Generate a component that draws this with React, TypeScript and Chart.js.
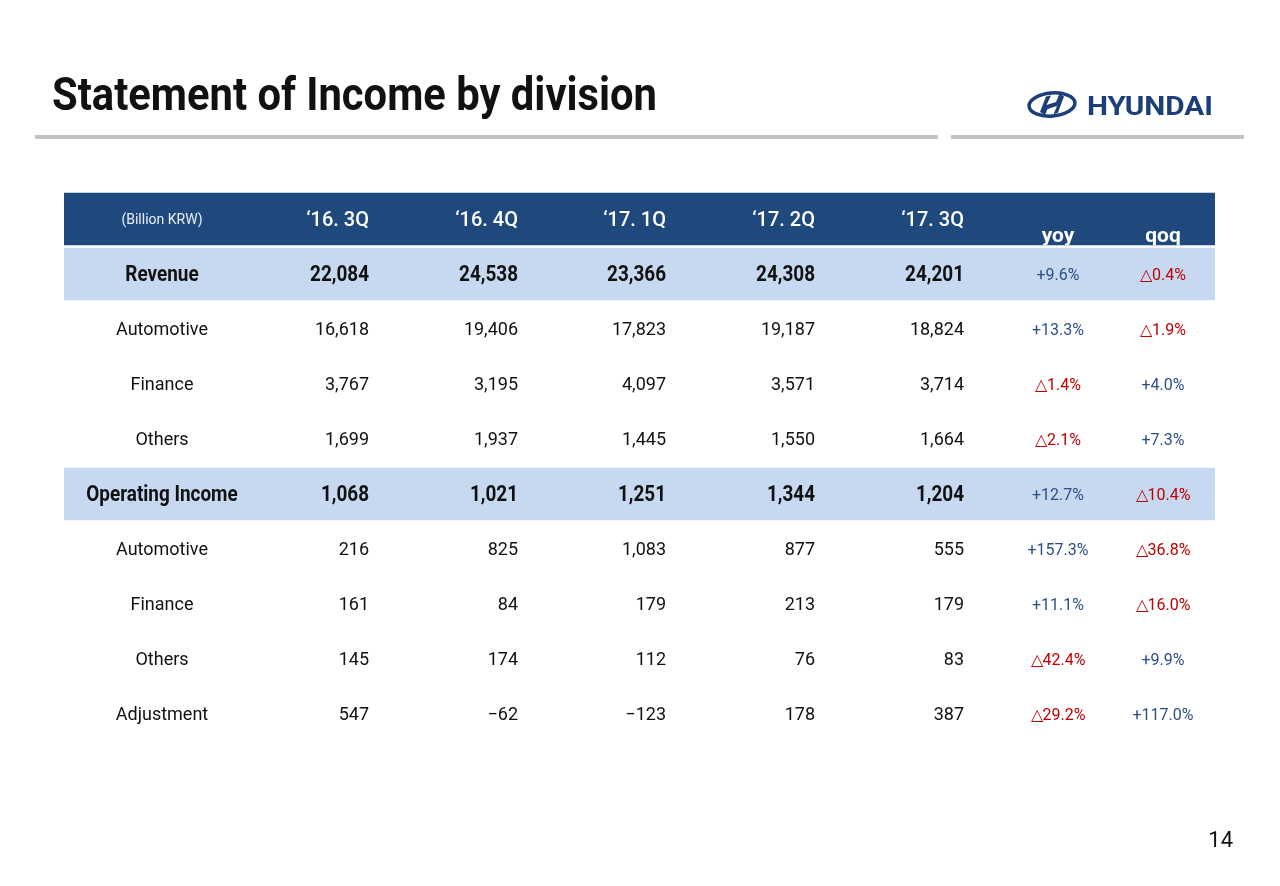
import React, { useEffect, useRef } from "react";
import { Chart, registerables } from "chart.js";

Chart.register(...registerables);

// ---------- DATA ----------
const quarters = ["‘16. 3Q", "‘16. 4Q", "‘17. 1Q", "‘17. 2Q", "‘17. 3Q"];
const unitLabel = "(Billion KRW)";
const changeHeaders = ["yoy", "qoq"];
const rowLabels = [
  "Revenue",
  "Automotive",
  "Finance",
  "Others",
  "Operating Income",
  "Automotive",
  "Finance",
  "Others",
  "Adjustment",
];
const revenue = [22084, 24538, 23366, 24308, 24201];
const revAutomotive = [16618, 19406, 17823, 19187, 18824];
const revFinance = [3767, 3195, 4097, 3571, 3714];
const revOthers = [1699, 1937, 1445, 1550, 1664];
const opIncome = [1068, 1021, 1251, 1344, 1204];
const opAutomotive = [216, 825, 1083, 877, 555];
const opFinance = [161, 84, 179, 213, 179];
const opOthers = [145, 174, 112, 76, 83];
const opAdjustment = [547, -62, -123, 178, 387];
const yoy = [9.6, 13.3, -1.4, -2.1, 12.7, 157.3, 11.1, -42.4, -29.2];
const qoq = [-0.4, -1.9, 4.0, 7.3, -10.4, -36.8, -16.0, 9.9, 117.0];
const summaryRows = [true, false, false, false, true, false, false, false, false];

const rowValues = [
  revenue,
  revAutomotive,
  revFinance,
  revOthers,
  opIncome,
  opAutomotive,
  opFinance,
  opOthers,
  opAdjustment,
];

// ---------- LAYOUT / STYLE ----------
const TABLE_WIDTH = 1151; // x-scale units span the table width
const COL_LABEL = 98;
const COL_QUARTERS = [305, 454, 602, 751, 900];
const COL_YOY = 994;
const COL_QOQ = 1099;
const HEADER_BLUE = "#1F497D";
const LIGHT_BLUE = "#C6D9F1";
const POS_BLUE = "#2B4F86";
const NEG_RED = "#C00000";
const NAVY = "#1C3F7A";
const FONT = "Roboto, 'Noto Sans', sans-serif";

const fmtNum = (v: number) =>
  (v < 0 ? "\u2212" : "") + Math.abs(v).toLocaleString("en-US");
const fmtPct = (v: number) =>
  (v < 0 ? "\u25B3" : "+") + Math.abs(v).toFixed(1) + "%";

const tablePlugin = {
  id: "tablePlugin",
  beforeDraw(chart: any) {
    const ctx = chart.ctx as CanvasRenderingContext2D;
    ctx.save();
    ctx.fillStyle = "#ffffff";
    ctx.fillRect(0, 0, chart.width, chart.height);

    // title
    ctx.fillStyle = "#111111";
    ctx.font = `bold 46px ${FONT}`;
    ctx.textAlign = "left";
    ctx.textBaseline = "alphabetic";
    ctx.fillText("Statement of Income by division", 52, 110, 605);

    // grey rules
    ctx.fillStyle = "#C3C3C3";
    ctx.fillRect(35, 135, 903, 4);
    ctx.fillRect(951, 135, 293, 4);

    // logo emblem
    ctx.strokeStyle = NAVY;
    ctx.fillStyle = NAVY;
    ctx.lineWidth = 3.5;
    ctx.beginPath();
    ctx.ellipse(1052, 104.5, 23, 11.5, -0.08, 0, Math.PI * 2);
    ctx.stroke();
    ctx.beginPath();
    ctx.moveTo(1040, 112);
    ctx.lineTo(1046, 96.5);
    ctx.lineTo(1051, 95.5);
    ctx.lineTo(1046.5, 105);
    ctx.lineTo(1056, 102);
    ctx.lineTo(1059.5, 93.8);
    ctx.lineTo(1064, 96.5);
    ctx.lineTo(1058, 112.5);
    ctx.lineTo(1053.5, 114.5);
    ctx.lineTo(1057, 106);
    ctx.lineTo(1047.5, 109);
    ctx.lineTo(1045, 115);
    ctx.closePath();
    ctx.fill();

    // logo word
    ctx.font = `bold 25px ${FONT}`;
    const w = ctx.measureText("HYUNDAI").width;
    ctx.save();
    ctx.translate(1087, 115);
    ctx.scale(126 / w, 1);
    ctx.fillText("HYUNDAI", 0, 0);
    ctx.restore();

    // page number
    ctx.fillStyle = "#111111";
    ctx.font = `22px ${FONT}`;
    ctx.textAlign = "right";
    ctx.fillText("14", 1233, 847);
    ctx.restore();
  },
  afterDatasetsDraw(chart: any) {
    const ctx = chart.ctx as CanvasRenderingContext2D;
    const xs = chart.scales.x;
    const ys = chart.scales.y;
    const X = (v: number) => xs.getPixelForValue(v);
    ctx.save();
    ctx.textBaseline = "alphabetic";

    // header row (index 0)
    const hy = ys.getPixelForValue(0);
    const bandTop = hy - 26;
    const bandBottom = hy + 26;
    ctx.save();
    ctx.beginPath();
    ctx.rect(chart.chartArea.left, bandTop, chart.chartArea.right - chart.chartArea.left, bandBottom - bandTop);
    ctx.clip();
    ctx.fillStyle = "#E8EEF7";
    ctx.font = `14px ${FONT}`;
    ctx.textAlign = "center";
    ctx.fillText(unitLabel, X(COL_LABEL), hy + 5);
    ctx.fillStyle = "#ffffff";
    ctx.font = `500 20px ${FONT}`;
    ctx.textAlign = "right";
    quarters.forEach((q, i) => {
      ctx.fillText(q, X(COL_QUARTERS[i]), hy + 7, 64);
    });
    ctx.font = `bold 21px ${FONT}`;
    ctx.textAlign = "center";
    ctx.fillText(changeHeaders[0], X(COL_YOY), hy + 23);
    ctx.fillText(changeHeaders[1], X(COL_QOQ), hy + 23);
    ctx.restore();

    // body rows
    rowLabels.forEach((label, r) => {
      const cy = ys.getPixelForValue(r + 1);
      const bold = summaryRows[r];
      ctx.fillStyle = "#111111";
      ctx.textAlign = "center";
      if (bold) {
        ctx.font = `bold 22px ${FONT}`;
        ctx.save();
        ctx.translate(X(COL_LABEL), cy + 7);
        ctx.scale(0.86, 1);
        ctx.fillText(label, 0, 0);
        ctx.restore();
      } else {
        ctx.font = `18px ${FONT}`;
        ctx.fillText(label, X(COL_LABEL), cy + 6);
      }
      ctx.textAlign = "right";
      rowValues[r].forEach((v, c) => {
        const t = fmtNum(v);
        if (bold) {
          ctx.font = `bold 22px ${FONT}`;
          ctx.save();
          ctx.translate(X(COL_QUARTERS[c]), cy + 7);
          ctx.scale(0.86, 1);
          ctx.fillText(t, 0, 0);
          ctx.restore();
        } else {
          ctx.font = `18px ${FONT}`;
          ctx.fillText(t, X(COL_QUARTERS[c]), cy + 6);
        }
      });
      ctx.textAlign = "center";
      ctx.font = `16px ${FONT}`;
      const y1 = yoy[r];
      const q1 = qoq[r];
      ctx.fillStyle = y1 < 0 ? NEG_RED : POS_BLUE;
      ctx.fillText(fmtPct(y1), X(COL_YOY), cy + 5.5);
      ctx.fillStyle = q1 < 0 ? NEG_RED : POS_BLUE;
      ctx.fillText(fmtPct(q1), X(COL_QOQ), cy + 5.5);
    });
    ctx.restore();
  },
};

export default function App() {
  const ref = useRef<HTMLCanvasElement | null>(null);
  useEffect(() => {
    if (!ref.current) return;
    const labels = ["header", ...rowLabels];
    const bands = labels.map((_, i) =>
      i === 0 || summaryRows[i - 1] ? [0, TABLE_WIDTH] : null
    );
    const colors = labels.map((_, i) => (i === 0 ? HEADER_BLUE : LIGHT_BLUE));
    const chart = new Chart(ref.current, {
      type: "bar",
      data: {
        labels,
        datasets: [
          {
            data: bands as any,
            backgroundColor: colors,
            borderWidth: 0,
            barThickness: 52,
            borderSkipped: false,
          },
        ],
      },
      options: {
        indexAxis: "y",
        responsive: false,
        animation: false,
        layout: { padding: { left: 64, right: 65, top: 191.5, bottom: 144.5 } },
        scales: {
          x: { type: "linear", min: 0, max: TABLE_WIDTH, display: false },
          y: { type: "category", display: false, offset: true, grid: { display: false } },
        },
        plugins: {
          legend: { display: false },
          tooltip: { enabled: false },
          title: { display: false },
        },
      },
      plugins: [tablePlugin],
    });
    return () => chart.destroy();
  }, []);
  return (
    <div style={{ position: "absolute", left: 0, top: 0, width: 1280, height: 886, background: "#fff" }}>
      <canvas ref={ref} width={1280} height={886} style={{ display: "block" }} />
    </div>
  );
}
